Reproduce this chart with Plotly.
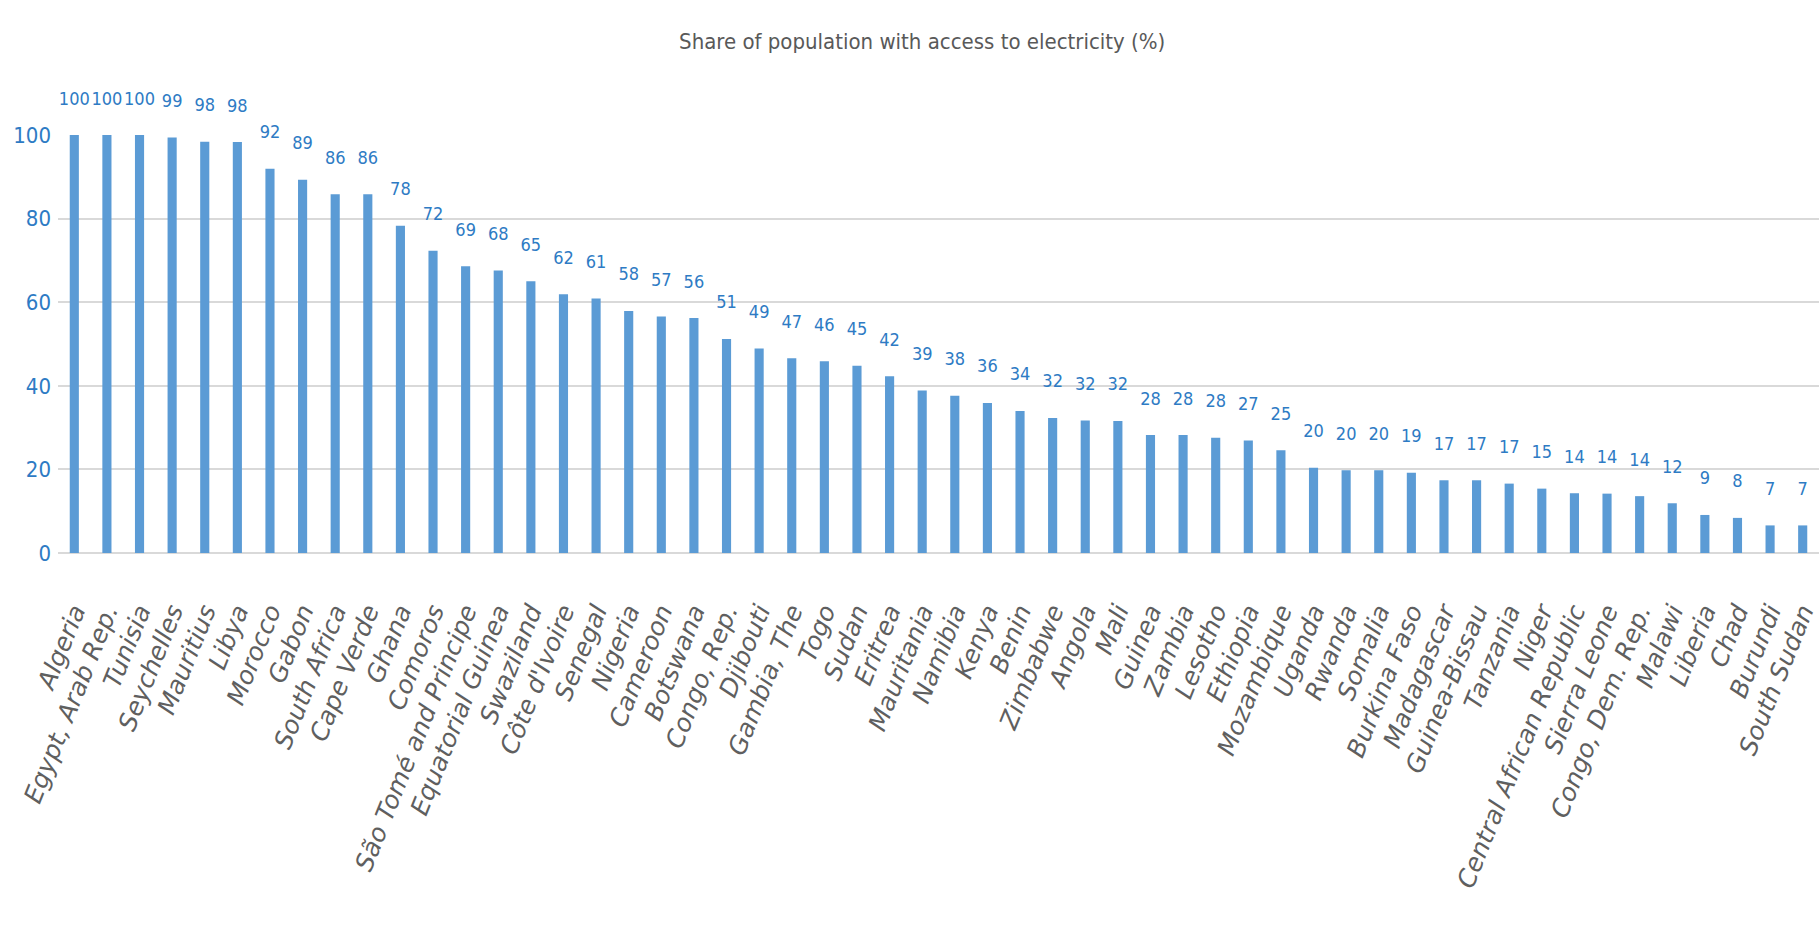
import plotly.graph_objects as go

countries = [
    "Algeria", "Egypt, Arab Rep.", "Tunisia", "Seychelles", "Mauritius", "Libya",
    "Morocco", "Gabon", "South Africa", "Cape Verde", "Ghana", "Comoros",
    "São Tomé and Principe", "Equatorial Guinea", "Swaziland", "Côte d'Ivoire",
    "Senegal", "Nigeria", "Cameroon", "Botswana", "Congo, Rep.", "Djibouti",
    "Gambia, The", "Togo", "Sudan", "Eritrea", "Mauritania", "Namibia", "Kenya",
    "Benin", "Zimbabwe", "Angola", "Mali", "Guinea", "Zambia", "Lesotho",
    "Ethiopia", "Mozambique", "Uganda", "Rwanda", "Somalia", "Burkina Faso",
    "Madagascar", "Guinea-Bissau", "Tanzania", "Niger", "Central African Republic",
    "Sierra Leone", "Congo, Dem. Rep.", "Malawi", "Liberia", "Chad", "Burundi",
    "South Sudan",
]

access_pct = [
    100.0, 100.0, 100.0, 99.4, 98.4, 98.3, 91.9, 89.3, 85.8, 85.8, 78.3, 72.3,
    68.6, 67.6, 65.0, 61.9, 60.9, 57.9, 56.6, 56.2, 51.2, 48.9, 46.6, 45.9,
    44.8, 42.3, 38.9, 37.6, 35.9, 34.0, 32.3, 31.7, 31.6, 28.2, 28.2, 27.6,
    26.9, 24.6, 20.4, 19.8, 19.8, 19.2, 17.4, 17.4, 16.6, 15.4, 14.3, 14.2,
    13.6, 11.9, 9.1, 8.4, 6.6, 6.6,
]

y_ticks = [0, 20, 40, 60, 80, 100]
title_text = "Share of population with access to electricity (%)"

NARROW = "Liberation Sans Narrow, DejaVu Sans Condensed, Arial Narrow, sans-serif"
BLUE_TXT = "#2E7BC4"

fig = go.Figure()
fig.add_trace(
    go.Bar(
        x=countries,
        y=access_pct,
        marker=dict(color="#5B9BD5", line=dict(width=0)),
        hoverinfo="x+y",
        showlegend=False,
    )
)
# data labels (value rounded), placed above each bar
fig.add_trace(
    go.Scatter(
        x=countries,
        y=access_pct,
        mode="markers+text",
        marker=dict(size=40, opacity=0),
        texttemplate="%{y:.0f}",
        textposition="top center",
        textfont=dict(family=NARROW, size=18, color=BLUE_TXT),
        cliponaxis=False,
        hoverinfo="skip",
        showlegend=False,
    )
)

fig.update_layout(
    width=1819,
    height=934,
    margin=dict(l=58, r=0, t=135, b=381),
    paper_bgcolor="white",
    plot_bgcolor="white",
    bargap=0.72,
    showlegend=False,
    title=dict(
        text=title_text,
        x=0.507,
        xanchor="center",
        y=1 - 41 / 934,
        yanchor="middle",
        font=dict(family=NARROW, size=22, color="#595959"),
    ),
)

fig.update_yaxes(
    range=[0, 100],
    tickvals=y_ticks,
    showgrid=True,
    gridcolor="#D9D9D9",
    gridwidth=2,
    zeroline=True,
    zerolinecolor="#D9D9D9",
    zerolinewidth=2,
    showline=False,
    tickfont=dict(family=NARROW, size=22, color=BLUE_TXT),
    ticks="",
    ticklabelstandoff=6,
)

fig.update_xaxes(
    range=[-0.5, len(countries) - 0.5],
    tickangle=-68,
    tickfont=dict(family="DejaVu Sans, Noto Sans, sans-serif", size=25,
                  color="#5F5F5F", style="italic"),
    showgrid=False,
    showline=False,
    ticks="",
    ticklabelstandoff=38,
    automargin=False,
)

fig.write_html("out.html")
